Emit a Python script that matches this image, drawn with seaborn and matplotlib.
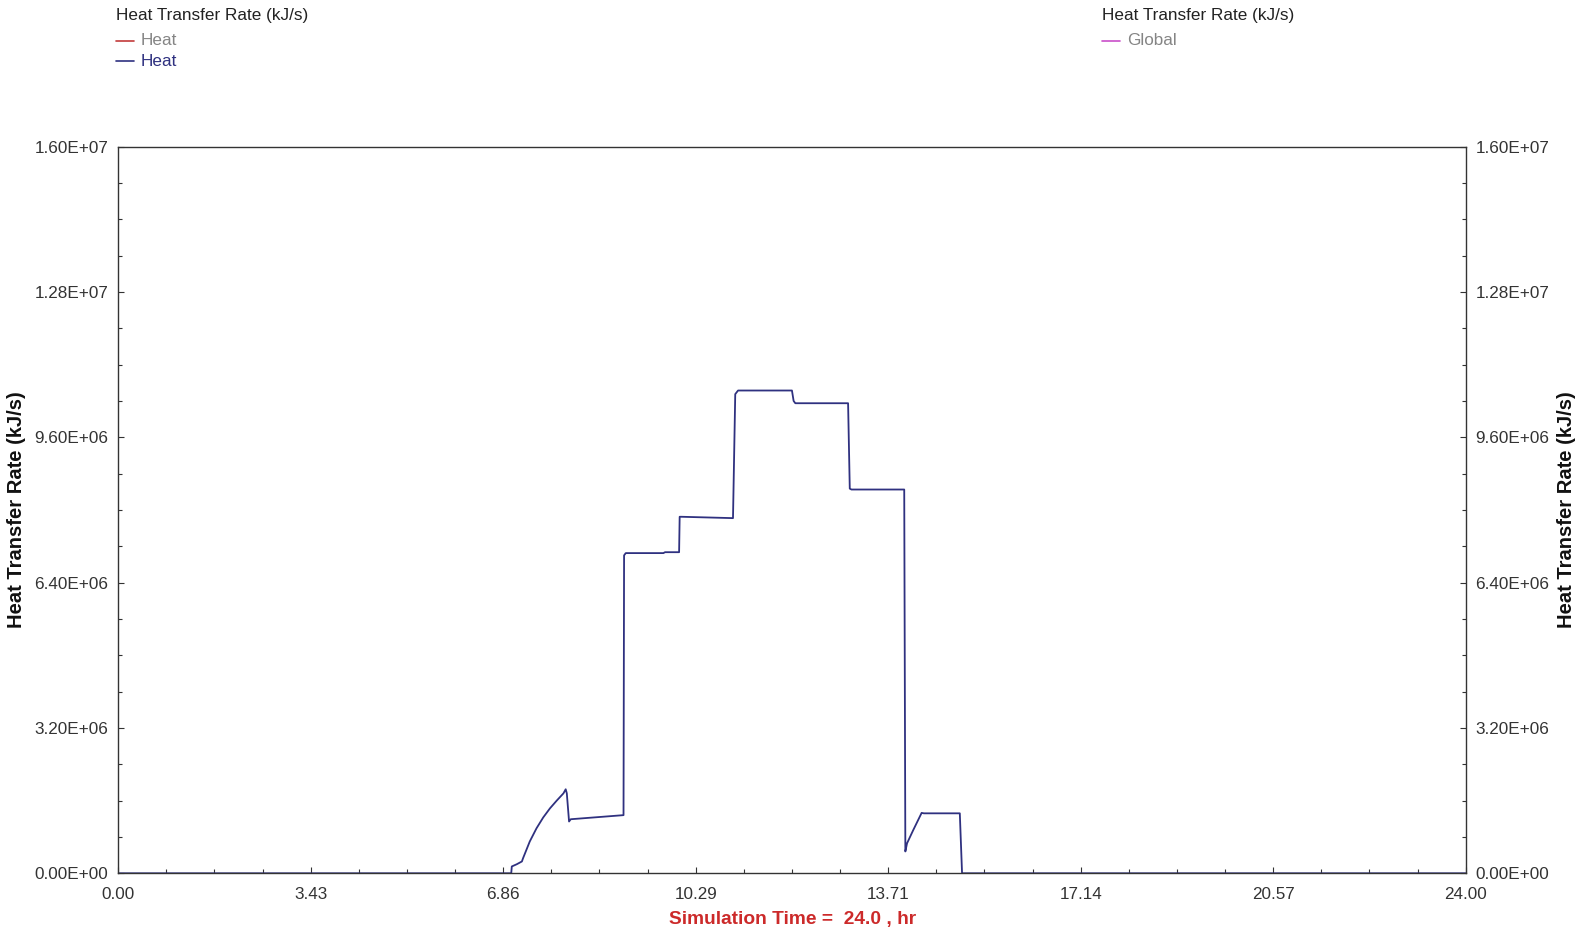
import numpy as np
import pandas as pd
import matplotlib
matplotlib.use("Agg")
import matplotlib.pyplot as plt
from matplotlib.lines import Line2D
from matplotlib.ticker import AutoMinorLocator
import seaborn as sns

# ---- data ----
time_hr = [0.0, 7.00, 7.01, 7.10, 7.19, 7.21, 7.33, 7.45, 7.57, 7.69, 7.81, 7.93,
           7.97, 7.99, 8.03, 8.06,
           9.00, 9.01, 9.04, 9.71, 9.74, 9.99, 10.00, 10.03, 10.95, 10.99, 11.04,
           12.00, 12.03, 12.06, 13.00, 13.03, 13.06, 14.00, 14.02, 14.05, 14.16,
           14.31, 14.35, 14.99, 15.03, 24.0]
heat_MW = [0.0, 0.0, 0.15, 0.20, 0.26, 0.33, 0.70, 0.99, 1.23, 1.43, 1.60, 1.76,
           1.85, 1.76, 1.14, 1.19,
           1.28, 7.00, 7.05, 7.05, 7.07, 7.07, 7.85, 7.85, 7.82, 10.55, 10.63,
           10.63, 10.40, 10.35, 10.35, 8.47, 8.45, 8.45, 0.48, 0.66, 0.95,
           1.33, 1.32, 1.32, 0.0, 0.0]
heat_values = [v * 1e6 for v in heat_MW]

x_tick_labels = ["0.00", "3.43", "6.86", "10.29", "13.71", "17.14", "20.57", "24.00"]
y_ticks = [0.0, 3.2e6, 6.4e6, 9.6e6, 1.28e7, 1.6e7]
y_tick_labels = ["0.00E+00", "3.20E+06", "6.40E+06", "9.60E+06", "1.28E+07", "1.60E+07"]

legend_left_title = "Heat Transfer Rate (kJ/s)"
legend_left_items = ["Heat", "Heat"]
legend_right_title = "Heat Transfer Rate (kJ/s)"
legend_right_items = ["Global"]
y_label = "Heat Transfer Rate (kJ/s)"
x_label = "Simulation Time =  24.0 , hr"

df = pd.DataFrame({"time": time_hr, "heat": heat_values})

# ---- style ----
sns.set_style("white")
plt.rcParams["font.family"] = ["Liberation Sans", "DejaVu Sans"]

navy = "#2F3180"
red = "#C23B3B"
magenta = "#C94FC9"
gray_txt = "#858585"
tick_txt = "#333333"

fig = plt.figure(figsize=(15.85, 9.31), dpi=100)
ax = fig.add_axes([0.0746, 0.062, 0.8501, 0.7805])

sns.lineplot(data=df, x="time", y="heat", ax=ax, color=navy, linewidth=1.3,
             estimator=None, sort=False, zorder=1)

ax.set_xlim(0, 24)
ax.set_ylim(0, 1.6e7)
ax.set_xticks(np.linspace(0, 24, 8))
ax.set_xticklabels(x_tick_labels)
ax.set_yticks(y_ticks)
ax.set_yticklabels(y_tick_labels)
ax.xaxis.set_minor_locator(AutoMinorLocator(4))
ax.yaxis.set_minor_locator(AutoMinorLocator(4))

ax.tick_params(axis="both", which="major", direction="in", length=4, width=0.8,
               color="#333333", labelsize=12.3, labelcolor=tick_txt, pad=7)
ax.tick_params(axis="both", which="minor", direction="in", length=3, width=0.8,
               color="#333333")
ax.tick_params(axis="y", which="both", left=True, right=True, labelleft=True,
               labelright=True)
ax.tick_params(axis="x", which="both", top=False, bottom=True)
ax.tick_params(axis="x", which="major", pad=10)

for s in ax.spines.values():
    s.set_visible(True)
    s.set_color("#333333")
    s.set_linewidth(1.0)
    s.set_zorder(3)

ax.set_xlabel("")
ax.set_ylabel("")
ax.grid(False)

# axis titles
fig.text(0.5, 0.0125, x_label, color="#CC2A2A", fontsize=13.8, fontweight="bold",
         ha="center", va="center")
ax_mid_y = 0.062 + 0.7805 / 2
fig.text(0.0105, ax_mid_y, y_label, rotation=90, fontsize=14.5, fontweight="bold",
         ha="center", va="center", color="#111111")
fig.text(0.9885, ax_mid_y, y_label, rotation=90, fontsize=14.5, fontweight="bold",
         ha="center", va="center", color="#111111")

# legends (top)
def legend_block(x0, title, items, colors, txtcolors):
    fig.text(x0, 1 - 15.5 / 931, title, fontsize=12.3, color="#222222",
             ha="left", va="center")
    for i, (lab, c, tc) in enumerate(zip(items, colors, txtcolors)):
        yy = 1 - (40.5 + 20.5 * i) / 931
        fig.add_artist(Line2D([x0, x0 + 18 / 1585], [yy, yy], color=c, lw=1.2,
                              transform=fig.transFigure))
        fig.text(x0 + 25 / 1585, yy, lab, fontsize=12.3, color=tc,
                 ha="left", va="center")

legend_block(116 / 1585, legend_left_title, legend_left_items,
             [red, navy], [gray_txt, navy])
legend_block(1102 / 1585, legend_right_title, legend_right_items,
             [magenta], [gray_txt])

fig.savefig("out.png", dpi=100)
